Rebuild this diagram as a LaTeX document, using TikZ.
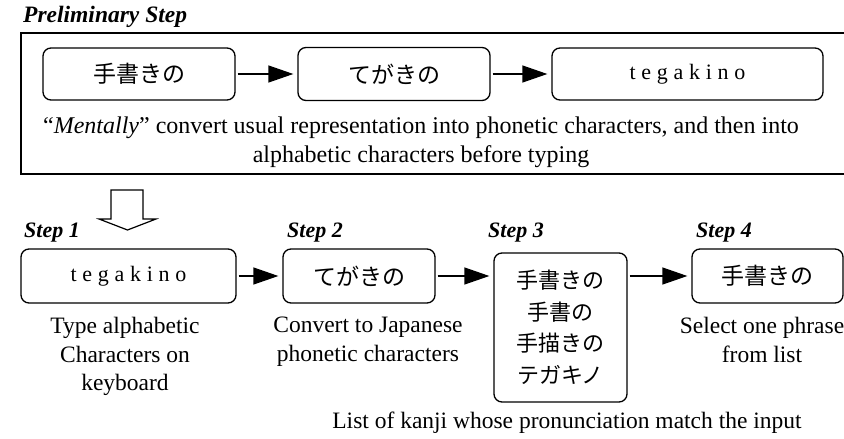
\documentclass[tikz,border=0pt]{standalone}
\usepackage{fontspec}
\setmainfont{Liberation Serif}
\newfontfamily\jpfont{Noto Sans CJK JP}
\usetikzlibrary{arrows.meta}
\newcommand{\tgk}[1]{t\hspace{#1}e\hspace{#1}g\hspace{#1}a\hspace{#1}k\hspace{#1}i\hspace{#1}n\hspace{#1}o}
\begin{document}
\begin{tikzpicture}[x=1pt,y=-1pt,
  box/.style={draw, line width=1.3pt, rounded corners=8pt, inner sep=0pt},
  arr/.style={line width=1.3pt, -{Triangle[length=25pt,width=17pt]}, shorten <=2pt, shorten >=4pt},
  captxt/.style={font=\fontsize{23.5}{28.5}\selectfont, align=center, inner sep=0pt, anchor=north},
  lbl/.style={font=\fontsize{22}{25}\selectfont\bfseries\itshape, inner sep=0pt, anchor=base west},
  jp/.style={font=\fontsize{23}{31.5}\selectfont\jpfont},
  jps/.style={font=\fontsize{22}{31.5}\selectfont\jpfont, align=center},
  lat/.style={font=\fontsize{22}{24}\selectfont}]
\useasboundingbox (0,0) rectangle (844,439);
% preliminary step
\node[lbl, font=\fontsize{23.5}{26}\selectfont\bfseries\itshape] (plabel) at (23,23) {Preliminary Step};
\draw[line width=1.3pt] (21,33) rectangle (850,174);
\node[box, minimum width=192pt, minimum height=52pt, jp] (p1) at (139,74) {手書きの};
\node[box, minimum width=192pt, minimum height=53pt, jp] (p2) at (394,74) {てがきの};
\node[box, minimum width=271pt, minimum height=52pt, lat] (p3) at (687.5,74) {\tgk{5.7pt}};
\draw[arr] (p1) -- (p2);
\draw[arr] (p2) -- (p3);
\node[captxt, font=\fontsize{24}{28.5}\selectfont] (ptext) at (421,117) {``\textit{Mentally}'' convert usual representation into phonetic characters, and then into\\ alphabetic characters before typing};
% down arrow
\draw[line width=1.2pt, fill=white] (111,190) -- (143,190) -- (143,219) -- (156,219) -- (127.5,230) -- (99,219) -- (111,219) -- cycle;
% steps
\node[lbl] (l1) at (24,237) {Step 1};
\node[lbl] (l2) at (287,237) {Step 2};
\node[lbl] (l3) at (488,237) {Step 3};
\node[lbl] (l4) at (696,237) {Step 4};
\node[box, minimum width=215pt, minimum height=54pt, lat] (s1) at (128.5,276) {\tgk{5.7pt}};
\node[box, minimum width=152pt, minimum height=54pt, jp] (s2) at (359,276) {てがきの};
\node[box, minimum width=133pt, minimum height=149pt, jps] (s3) at (560.5,327.5) {手書きの\\手書の\\手描きの\\テガキノ};
\node[box, minimum width=151pt, minimum height=54pt, jp] (s4) at (767.5,276) {手書きの};
\draw[arr] (s1) -- (s2);
\draw[arr] (s2.east) -- (s3.west |- s2.east);
\draw[arr] (s3.east |- s4.west) -- (s4.west);
\node[captxt] (c1) at (125,317) {Type alphabetic\\Characters on\\keyboard};
\node[captxt] (c2) at (368,317) {Convert to Japanese\\phonetic characters};
\node[captxt] (c4) at (762,317) {Select one phrase\\from list};
\node[captxt] (c3) at (567,412) {List of kanji whose pronunciation match the input};
\end{tikzpicture}
\end{document}
